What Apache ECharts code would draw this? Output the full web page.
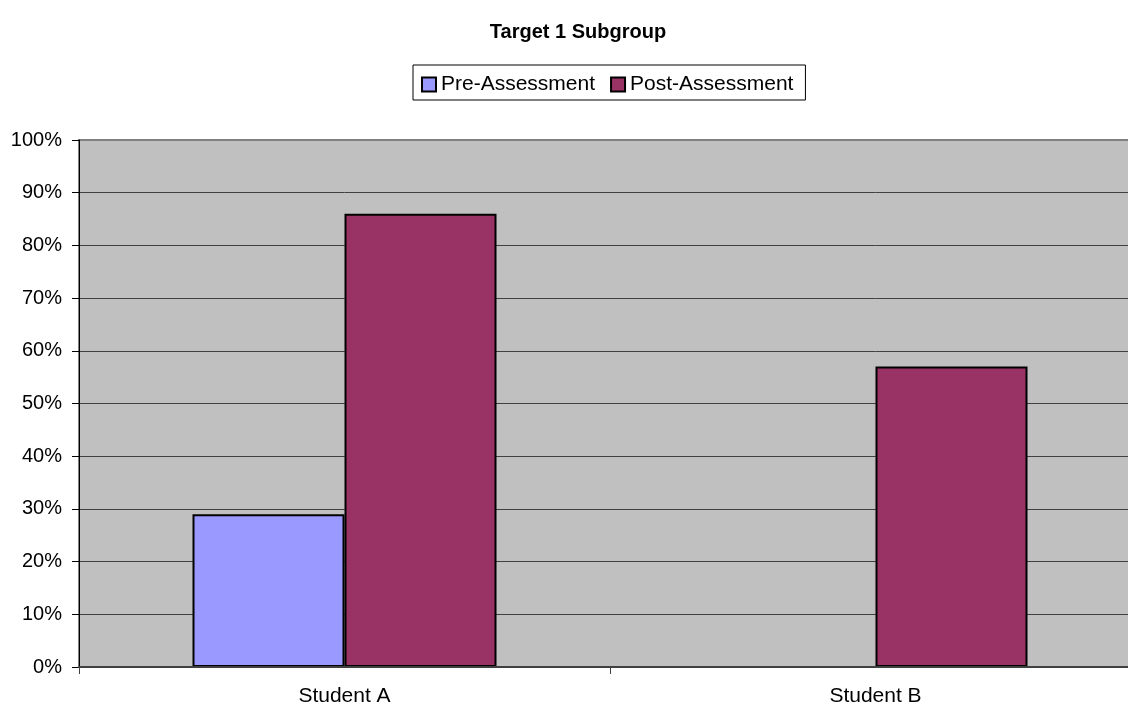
<!DOCTYPE html>
<html>
<head>
<meta charset="utf-8">
<script src="https://cdn.jsdelivr.net/npm/echarts@6/dist/echarts.min.js"></script>
<style>
  html, body { margin: 0; padding: 0; background: #fff; overflow: hidden; }
  /* plot area runs a little past the right edge of the window */
  #chart { width: 1141px; height: 707px; }
</style>
</head>
<body>
<div id="chart"></div>
<script>
const categories = ["Student A", "Student B"];
const preAssessment = [29, 0];
const postAssessment = [86, 57];
const yTicks = [0, 10, 20, 30, 40, 50, 60, 70, 80, 90, 100];

const font = "Liberation Sans, Arial, sans-serif";
const chart = echarts.init(document.getElementById("chart"));

let option = {
  animation: false,
  backgroundColor: "#ffffff",
  title: {
    text: "Target 1 Subgroup",
    left: 573,
    textAlign: "center",
    top: 17,
    textStyle: {
      fontFamily: font,
      fontSize: 20,
      fontWeight: "bold",
      color: "#000",
    },
  },
  legend: {
    top: 65,
    left: 413,
    itemWidth: 14,
    itemHeight: 14,
    itemGap: 15,
    padding: [9, 12, 5, 8],
    borderColor: "#000",
    borderWidth: 1,
    icon: "rect",
    textStyle: {
      fontFamily: font,
      fontSize: 21,
      color: "#000",
    },
  },
  grid: {
    left: 79,
    right: 0,
    top: 140,
    bottom: 40,
    outerBoundsMode: "none",
    show: true,
    backgroundColor: "#c0c0c0",
    borderColor: "#808080",
    borderWidth: 2,
  },
  xAxis: {
    type: "category",
    data: categories,
    z: 3,
    axisLine: { lineStyle: { color: "#404040", width: 2 } },
    axisTick: { show: true, length: 7, lineStyle: { color: "#404040" } },
    axisLabel: {
      fontFamily: font,
      fontSize: 21,
      color: "#000",
      margin: 19,
    },
  },
  yAxis: {
    type: "value",
    min: yTicks[0],
    max: yTicks[yTicks.length - 1],
    interval: 10,
    axisLine: { show: true, lineStyle: { color: "#000", width: 1 } },
    axisTick: { show: true, length: 7, lineStyle: { color: "#000" } },
    axisLabel: {
      formatter: "{value}%",
      fontFamily: font,
      fontSize: 20,
      color: "#000",
      margin: 17,
    },
    splitLine: {
      showMaxLine: false,
      lineStyle: { color: "#404040", width: 1 },
    },
  },
  series: [
    {
      name: "Pre-Assessment",
      type: "bar",
      data: preAssessment,
      barWidth: 152,
      barGap: "0%",
      itemStyle: { color: "#9999ff", borderColor: "#000", borderWidth: 2 },
    },
    {
      name: "Post-Assessment",
      type: "bar",
      data: postAssessment,
      barWidth: 152,
      barGap: "0%",
      itemStyle: { color: "#993366", borderColor: "#000", borderWidth: 2 },
    },
  ],
};

chart.setOption(option);
</script>
</body>
</html>
